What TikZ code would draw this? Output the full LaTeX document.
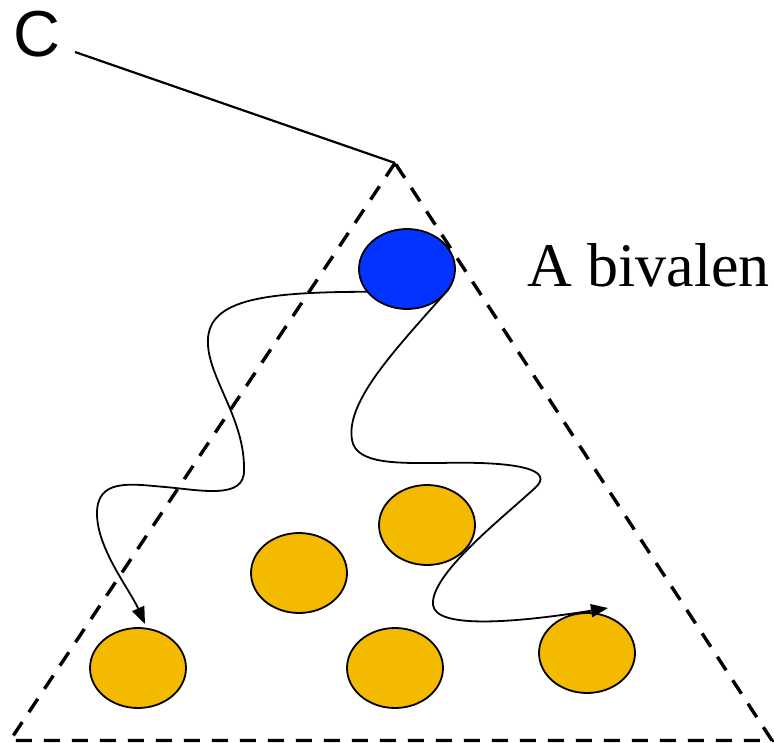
\documentclass[tikz,border=0pt]{standalone}
\usepackage{fontspec}
\setmainfont{Liberation Serif}
\newfontfamily\csans{Liberation Sans}
\usetikzlibrary{shapes.geometric,arrows.meta}
\definecolor{blueball}{RGB}{4,51,255}
\definecolor{orangeball}{RGB}{243,186,0}
\tikzset{
  ball/.style={ellipse, draw=black, line width=1.8pt, minimum width=96pt, minimum height=80pt, inner sep=0pt, outer sep=0pt},
  blueb/.style={ball, fill=blueball},
  orangeb/.style={ball, fill=orangeball},
  tri/.style={dashed, dash pattern=on 16pt off 12pt, line width=3.4pt},
  path/.style={line width=1.8pt, -{Triangle[length=17pt,width=13pt]}},
  conn/.style={line width=2.2pt}
}
\begin{document}
\begin{tikzpicture}[x=1pt,y=-1pt]
\useasboundingbox (0,0) rectangle (774,743);
% triangle
\coordinate (top) at (395,163);
\coordinate (bl) at (10,740.5);
\coordinate (br) at (772,740.5);
\draw[tri] (top) -- (bl) -- (br) -- cycle;
% label C and its line
\node[anchor=base west, inner sep=0pt, font=\csans\fontsize{65}{70}\selectfont] (clab) at (13,57) {C};
\coordinate (cl) at (75,52);
\draw[conn] (cl) -- (top);
% text
\node[anchor=base west, inner sep=0pt, font=\fontsize{62}{68}\selectfont] (txt) at (527,287) {A bivalen};
% balls
\node[blueb] (b) at (407,269) {};
\node[orangeb] (o1) at (138,668) {};
\node[orangeb] (o2) at (395,668) {};
\node[orangeb] (o3) at (587,653) {};
\node[orangeb] (o4) at (299,573) {};
\node[orangeb] (o5) at (427,525) {};
% wavy paths
\draw[path] (b.210) .. controls (260,292) and (205,300) .. (208,345)
  .. controls (210,380) and (245,420) .. (244,470)
  .. controls (245,500) and (200,490) .. (165,487)
  .. controls (130,484) and (96,478) .. (97,515)
  .. controls (98,550) and (130,590) .. ([shift={(7,-44)}]o1.center);
\draw[path] (b.-26) .. controls (400,345) and (345,400) .. (352,440)
  .. controls (356,465) and (400,463) .. (440,463)
  .. controls (520,461) and (555,470) .. (535,488)
  .. controls (500,520) and (430,575) .. (433,605)
  .. controls (436,630) and (520,622) .. ([shift={(21,-45)}]o3.center);
\end{tikzpicture}
\end{document}
